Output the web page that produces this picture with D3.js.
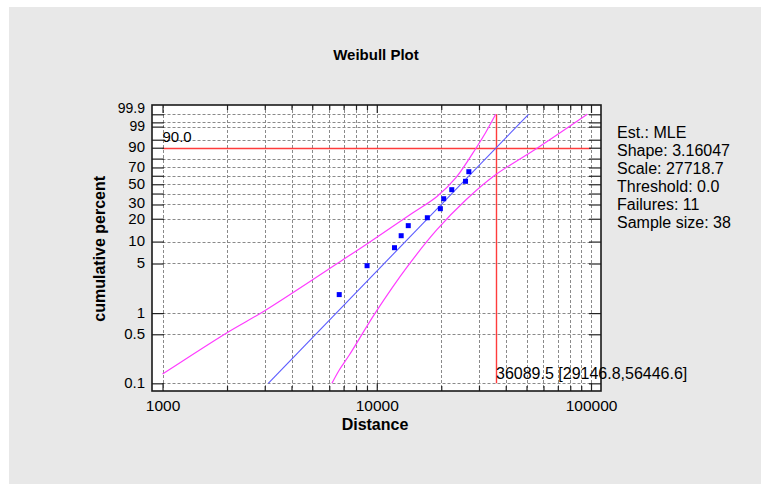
<!DOCTYPE html>
<html>
<head>
<meta charset="utf-8">
<script src="https://cdn.jsdelivr.net/npm/d3@7"></script>
<style>
  html, body { margin: 0; padding: 0; background: #ffffff; }
  svg { display: block; font-family: "Liberation Sans", Arial, sans-serif; }
</style>
</head>
<body>
<svg id="chart" width="761" height="484"></svg>
<script>
// Observed failures: distance and plotted cumulative percent
const failureDistance = [6680, 9010, 12100, 13000, 14030, 17220, 19810, 20530, 22390, 25960, 26900];
const failurePercent  = [1.83, 4.66, 8.26, 12.0, 16.3, 20.6, 26.7, 35.0, 44.0, 53.4, 64.9];

// Fitted Weibull parameters
const estimator = "MLE";
const shape = 3.16047;
const scale = 27718.7;
const threshold = 0.0;
const failures = 11;
const sampleSize = 38;

// Selected percentile with its confidence interval
const targetPercent = 90.0;
const percentileEst = 36089.5;
const percentileLo = 29146.8;
const percentileHi = 56446.6;

// Confidence bounds around the fitted line
const upperBandDistance = [1000, 2000, 3000, 6925, 9141, 14630, 19040, 23370, 29146.8, 32090, 35900];
const upperBandPercent  = [0.1356, 0.527, 1.082, 5.59, 9.57, 23.44, 36.92, 57.34, 90.0, 97.53, 99.9];
const lowerBandDistance = [6176, 6683, 7444, 9931, 13890, 19040, 26030, 35210, 56446.6, 96100];
const lowerBandPercent  = [0.1, 0.155, 0.253, 1.047, 4.51, 14.30, 33.87, 59.74, 90.0, 99.9];

// Axis ticks
const xMajorTicks = [1000, 10000, 100000];
const xMinorTicks = [2000, 3000, 4000, 5000, 6000, 7000, 8000, 9000,
                     20000, 30000, 40000, 50000, 60000, 70000, 80000, 90000];
const yTickPercents = [0.1, 0.5, 1, 5, 10, 20, 30, 40, 50, 60, 70, 80, 90, 95, 99, 99.5, 99.9];
const yTickLabels   = ["0.1", "0.5", "1", "5", "10", "20", "30", "", "50", "", "70", "", "90", "", "99", "", "99.9"];
// small vertical nudges (px) that keep crowded labels apart
const yLabelNudge   = [0, 0, 0, 0, 0, 0.5, -1.5, 0, 0, 0, 0, 0, 0, 0, -0.5, 0, -5.5];
const xAxisTitle = "Distance";
const yAxisTitle = "cumulative percent";
const chartTitle = "Weibull Plot";

// ---------------------------------------------------------------
const svg = d3.select("#chart");
const W = 761, H = 484;
const frame = { left: 152, right: 601, top: 105, bottom: 391 };
const px = v => Math.round(v) + 0.5;

// Weibull probability transform: ln(-ln(1 - p))
const wb = pct => Math.log(-Math.log(1 - pct / 100));

const x = d3.scaleLog().domain([893, 111340]).range([frame.left, frame.right]);
const yW = d3.scaleLinear().domain([wb(0.0777), wb(99.9915)]).range([frame.bottom, frame.top]);
const y = pct => yW(wb(pct));

// background panel
svg.append("rect").attr("x", 0).attr("y", 0).attr("width", W).attr("height", H).attr("fill", "#ffffff");
svg.append("rect").attr("x", 9).attr("y", 7).attr("width", W - 9).attr("height", H - 7).attr("fill", "#e8e8e8");

// plot area
svg.append("rect")
  .attr("x", frame.left).attr("y", frame.top)
  .attr("width", frame.right - frame.left).attr("height", frame.bottom - frame.top)
  .attr("fill", "#ffffff");

// grid
const grid = svg.append("g").attr("stroke", "#8a8a8a").attr("stroke-width", 1).attr("stroke-dasharray", "3,2");
grid.selectAll("line.v").data(xMajorTicks.concat(xMinorTicks)).join("line")
  .attr("x1", d => px(x(d))).attr("x2", d => px(x(d)))
  .attr("y1", frame.top).attr("y2", frame.bottom);
grid.selectAll("line.h").data(yTickPercents).join("line")
  .attr("x1", x(1000)).attr("x2", x(100000))
  .attr("y1", d => px(y(d))).attr("y2", d => px(y(d)));

// percentile crosshair
const red = "#ff3c3c";
svg.append("line")
  .attr("x1", x(1000)).attr("x2", x(100000))
  .attr("y1", px(y(targetPercent))).attr("y2", px(y(targetPercent)))
  .attr("stroke", red).attr("stroke-width", 1.4);
svg.append("line")
  .attr("x1", px(x(percentileEst))).attr("x2", px(x(percentileEst)))
  .attr("y1", y(99.9)).attr("y2", y(0.1))
  .attr("stroke", red).attr("stroke-width", 1.4);

// confidence bands
const bandLine = d3.line().x(d => x(d[0])).y(d => y(d[1])).curve(d3.curveCatmullRom.alpha(0.5));
svg.append("path")
  .attr("d", bandLine(upperBandDistance.map((d, i) => [d, upperBandPercent[i]])))
  .attr("fill", "none").attr("stroke", "#ff3cff").attr("stroke-width", 1.2);
svg.append("path")
  .attr("d", bandLine(lowerBandDistance.map((d, i) => [d, lowerBandPercent[i]])))
  .attr("fill", "none").attr("stroke", "#ff3cff").attr("stroke-width", 1.2);

// fitted line (straight on Weibull paper), from 0.1% to 99.9%
const fitX = pct => threshold + scale * Math.pow(-Math.log(1 - pct / 100), 1 / shape);
svg.append("line")
  .attr("x1", x(fitX(0.1))).attr("y1", y(0.1))
  .attr("x2", x(fitX(99.9))).attr("y2", y(99.9))
  .attr("stroke", "#5a5aff").attr("stroke-width", 1.1);

// observed failures
svg.append("g").selectAll("rect").data(failureDistance).join("rect")
  .attr("x", (d) => x(d) - 2.5)
  .attr("y", (d, i) => y(failurePercent[i]) - 2.5)
  .attr("width", 5).attr("height", 5)
  .attr("fill", "#0000ff");

// axes
function styleAxis(g) {
  g.select(".domain").remove();
  g.selectAll(".tick line").attr("stroke", "#222").attr("stroke-width", 1.2);
  g.selectAll("text").attr("fill", "#000");
  g.attr("font-family", null).attr("font-size", null);
}

svg.append("g").attr("transform", `translate(${frame.left},0)`)
  .call(d3.axisLeft(yW).tickValues(yTickPercents.map(wb)).tickSizeInner(-12).tickSizeOuter(0)
        .tickPadding(7).tickFormat((d, i) => yTickLabels[i]))
  .call(styleAxis)
  .call(g => g.selectAll("text")
    .attr("font-size", (d, i) => (i >= 14 ? "14px" : "15px"))
    .attr("y", (d, i) => yLabelNudge[i])
    .attr("dy", "0.28em"));

svg.append("g").attr("transform", `translate(${frame.right},0)`)
  .call(d3.axisRight(yW).tickValues(yTickPercents.map(wb)).tickSizeInner(-12).tickSizeOuter(0).tickFormat(""))
  .call(styleAxis);

svg.append("g").attr("transform", `translate(0,${frame.bottom})`)
  .call(d3.axisBottom(x).tickValues(xMajorTicks).tickSizeInner(-8).tickSizeOuter(0)
        .tickPadding(9).tickFormat(d3.format("d")))
  .call(styleAxis)
  .call(g => g.selectAll("text").attr("font-size", "15.5px"));
svg.append("g").attr("transform", `translate(0,${frame.bottom})`)
  .call(d3.axisBottom(x).tickValues(xMinorTicks).tickSizeInner(-5).tickSizeOuter(0).tickFormat(""))
  .call(styleAxis);
svg.append("g").attr("transform", `translate(0,${frame.top})`)
  .call(d3.axisTop(x).tickValues(xMajorTicks).tickSizeInner(-8).tickSizeOuter(0).tickFormat(""))
  .call(styleAxis);
svg.append("g").attr("transform", `translate(0,${frame.top})`)
  .call(d3.axisTop(x).tickValues(xMinorTicks).tickSizeInner(-5).tickSizeOuter(0).tickFormat(""))
  .call(styleAxis);

// frame
svg.append("rect")
  .attr("x", frame.left).attr("y", frame.top)
  .attr("width", frame.right - frame.left).attr("height", frame.bottom - frame.top)
  .attr("fill", "none").attr("stroke", "#1a1a1a").attr("stroke-width", 1.6);

// annotations
svg.append("text")
  .attr("x", x(1000)).attr("y", y(targetPercent) - 5.5)
  .attr("font-size", "15px").attr("fill", "#000")
  .text(targetPercent.toFixed(1));
svg.append("text")
  .attr("x", px(x(percentileEst)) - 0.5).attr("y", y(0.1) - 4.5)
  .attr("font-size", "16px").attr("fill", "#000")
  .text(`${percentileEst} [${percentileLo},${percentileHi}]`);

// titles
svg.append("text")
  .attr("x", 376).attr("y", 60).attr("text-anchor", "middle")
  .attr("font-size", "15px").attr("font-weight", "bold").attr("fill", "#000")
  .text(chartTitle);
svg.append("text")
  .attr("x", 375).attr("y", 430).attr("text-anchor", "middle")
  .attr("font-size", "16px").attr("font-weight", "bold").attr("fill", "#000")
  .text(xAxisTitle);
svg.append("text")
  .attr("transform", `translate(105,${(y(0.1) + y(99.9)) / 2}) rotate(-90)`)
  .attr("text-anchor", "middle")
  .attr("font-size", "16px").attr("font-weight", "bold").attr("fill", "#000")
  .text(yAxisTitle);

// fit summary
const summary = [
  `Est.: ${estimator}`,
  `Shape: ${shape}`,
  `Scale: ${scale}`,
  `Threshold: ${threshold.toFixed(1)}`,
  `Failures: ${failures}`,
  `Sample size: ${sampleSize}`
];
svg.append("g").selectAll("text").data(summary).join("text")
  .attr("x", 617).attr("y", (d, i) => 138.3 + i * 18)
  .attr("font-size", "16px").attr("fill", "#000")
  .text(d => d);
</script>
</body>
</html>
